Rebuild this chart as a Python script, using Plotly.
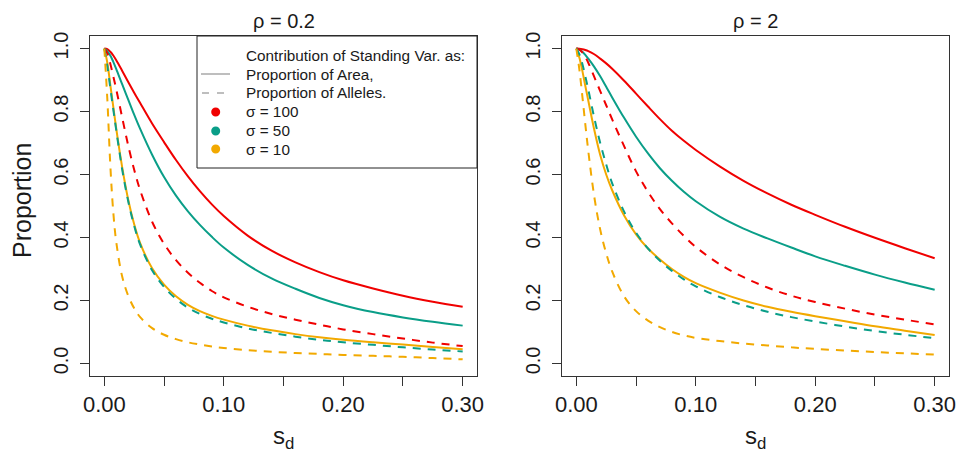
import plotly.graph_objects as go

# ---------------- data ----------------
s_d = [0, 0.0025, 0.005, 0.0075, 0.01, 0.015, 0.02, 0.025, 0.03, 0.04, 0.05, 0.06, 0.07, 0.08, 0.09,
       0.10, 0.12, 0.14, 0.16, 0.18, 0.20, 0.225, 0.25, 0.275, 0.30]

# rho = 0.2 panel
area_s100_r02 = [1.0, 0.998, 0.99, 0.978, 0.963, 0.929, 0.894, 0.86, 0.827, 0.762, 0.703, 0.646, 0.594, 0.547, 0.505,
                 0.468, 0.406, 0.358, 0.321, 0.29, 0.264, 0.238, 0.215, 0.196, 0.180]
area_s50_r02 = [1.0, 0.992, 0.978, 0.958, 0.935, 0.886, 0.838, 0.79, 0.745, 0.663, 0.592, 0.533, 0.483, 0.44, 0.402,
                0.368, 0.313, 0.27, 0.237, 0.208, 0.185, 0.163, 0.146, 0.132, 0.12]
area_s10_r02 = [1.0, 0.955, 0.885, 0.815, 0.745, 0.622, 0.52, 0.442, 0.382, 0.302, 0.25, 0.213, 0.186, 0.166, 0.151,
                0.139, 0.12, 0.105, 0.093, 0.083, 0.075, 0.067, 0.06, 0.052, 0.045]
allele_s100_r02 = [1.0, 0.985, 0.952, 0.912, 0.87, 0.78, 0.692, 0.615, 0.55, 0.45, 0.38, 0.328, 0.288, 0.256, 0.23,
                   0.21, 0.18, 0.157, 0.139, 0.123, 0.108, 0.093, 0.079, 0.066, 0.055]
allele_s50_r02 = [1.0, 0.945, 0.875, 0.807, 0.74, 0.615, 0.515, 0.437, 0.377, 0.296, 0.243, 0.205, 0.177, 0.157, 0.142,
                  0.13, 0.111, 0.097, 0.085, 0.075, 0.067, 0.059, 0.051, 0.044, 0.038]
allele_s10_r02 = [1.0, 0.84, 0.63, 0.48, 0.385, 0.275, 0.215, 0.175, 0.147, 0.112, 0.091, 0.077, 0.067, 0.06, 0.054,
                  0.049, 0.042, 0.037, 0.033, 0.03, 0.027, 0.024, 0.021, 0.017, 0.013]

# rho = 2 panel
area_s100_r2 = [1.0, 0.9995, 0.998, 0.9955, 0.992, 0.982, 0.968, 0.953, 0.936, 0.898, 0.857, 0.816, 0.776, 0.739, 0.707,
                0.678, 0.626, 0.58, 0.54, 0.504, 0.472, 0.434, 0.399, 0.366, 0.334]
area_s50_r2 = [1.0, 0.997, 0.99, 0.98, 0.968, 0.942, 0.912, 0.879, 0.845, 0.78, 0.72, 0.667, 0.62, 0.58, 0.545,
               0.515, 0.466, 0.428, 0.397, 0.368, 0.34, 0.31, 0.282, 0.257, 0.234]
area_s10_r2 = [1.0, 0.972, 0.93, 0.882, 0.835, 0.742, 0.662, 0.6, 0.55, 0.47, 0.41, 0.365, 0.33, 0.3, 0.275,
               0.255, 0.225, 0.2, 0.18, 0.164, 0.15, 0.134, 0.118, 0.104, 0.09]
allele_s100_r2 = [1.0, 0.997, 0.988, 0.973, 0.955, 0.91, 0.865, 0.82, 0.775, 0.69, 0.61, 0.545, 0.49, 0.445, 0.405,
                  0.37, 0.315, 0.274, 0.241, 0.215, 0.195, 0.174, 0.155, 0.139, 0.124]
allele_s50_r2 = [1.0, 0.982, 0.952, 0.912, 0.87, 0.78, 0.70, 0.632, 0.572, 0.482, 0.415, 0.365, 0.326, 0.294, 0.267,
                 0.245, 0.211, 0.185, 0.164, 0.147, 0.133, 0.117, 0.103, 0.091, 0.08]
allele_s10_r2 = [1.0, 0.935, 0.85, 0.76, 0.675, 0.53, 0.425, 0.35, 0.292, 0.213, 0.166, 0.136, 0.115, 0.1, 0.089,
                 0.081, 0.071, 0.063, 0.057, 0.051, 0.046, 0.041, 0.036, 0.032, 0.028]

panel_titles = ["ρ = 0.2", "ρ = 2"]
x_title = "s<sub>d</sub>"
y_title = "Proportion"
legend_header = "Contribution of Standing Var. as:"
legend_line_labels = ["Proportion of Area,", "Proportion of Alleles."]
sigma_labels = ["σ = 100", "σ = 50", "σ = 10"]
x_tickvals = [0, 0.10, 0.20, 0.30]
x_ticktext = ["0.00", "0.10", "0.20", "0.30"]
x_minor_tickvals = [0.05, 0.15, 0.25]
y_tickvals = [0, 0.2, 0.4, 0.6, 0.8, 1.0]
y_ticktext = ["0.0", "0.2", "0.4", "0.6", "0.8", "1.0"]

# ---------------- style ----------------
RED = "#F00000"
TEAL = "#0A9E88"
ORANGE = "#F2A900"
GRAY = "#BEBEBE"
colors = [RED, TEAL, ORANGE]
FONT = "Liberation Sans, Arial, sans-serif"
TXT = "#1a1a1a"
AX = "#333333"
W, H = 961, 452
DASH = "8px,7px"
SMOOTH = 1.0


def px(x):
    return x / W


def py(y):
    return 1 - y / H


fig = go.Figure()

panels = [
    ("x", "y", [area_s100_r02, area_s50_r02, area_s10_r02], [allele_s100_r02, allele_s50_r02, allele_s10_r02]),
    ("x2", "y2", [area_s100_r2, area_s50_r2, area_s10_r2], [allele_s100_r2, allele_s50_r2, allele_s10_r2]),
]
for xa, ya, areas, alleles in panels:
    for col, a in zip(colors, areas):
        fig.add_trace(go.Scatter(x=s_d, y=a, mode="lines", xaxis=xa, yaxis=ya,
                                 line=dict(color=col, width=2, shape="spline", smoothing=SMOOTH),
                                 showlegend=False, hoverinfo="skip"))
    for col, a in zip(colors, alleles):
        fig.add_trace(go.Scatter(x=s_d, y=a, mode="lines", xaxis=xa, yaxis=ya,
                                 line=dict(color=col, width=2, dash=DASH, shape="spline", smoothing=SMOOTH),
                                 showlegend=False, hoverinfo="skip"))

# geometry (pixels)
L1, R1 = 90, 477
L2, R2 = 562, 949
TOP, BOT = 36, 376
ydom = [py(BOT), py(TOP)]

axis_common = dict(showgrid=False, zeroline=False, showline=True, mirror=True, automargin=False,
                   linecolor=AX, linewidth=1, ticks="outside", ticklen=9,
                   tickcolor=AX, tickwidth=1)
xcommon = dict(axis_common, range=[-0.012, 0.312], tickvals=x_tickvals, ticktext=x_ticktext,
               minor=dict(tickvals=x_minor_tickvals, ticks="outside", ticklen=9, tickcolor=AX, tickwidth=1,
                          showgrid=False),
               tickfont=dict(family=FONT, size=22, color=TXT), ticklabelstandoff=0)
ycommon = dict(axis_common, range=[-0.04, 1.04], tickvals=y_tickvals, ticktext=y_ticktext,
               tickangle=-90, tickfont=dict(family=FONT, size=20, color=TXT), ticklabelstandoff=4)

fig.update_layout(
    width=W, height=H,
    margin=dict(l=0, r=0, t=0, b=0, autoexpand=False),
    paper_bgcolor="white", plot_bgcolor="white",
    font=dict(family=FONT, color=TXT),
    xaxis=dict(xcommon, domain=[px(L1), px(R1)], anchor="y"),
    yaxis=dict(ycommon, domain=ydom, anchor="x"),
    xaxis2=dict(xcommon, domain=[px(L2), px(R2)], anchor="y2"),
    yaxis2=dict(ycommon, domain=ydom, anchor="x2"),
    showlegend=False,
)

# panel titles and axis titles
for title, (l, r) in zip(panel_titles, [(L1, R1), (L2, R2)]):
    fig.add_annotation(text=title, x=px((l + r) / 2), y=py(21), xref="paper", yref="paper",
                       xanchor="center", yanchor="middle", showarrow=False,
                       font=dict(family=FONT, size=20, color=TXT))
    fig.add_annotation(text=x_title, x=px((l + r) / 2), y=py(437), xref="paper", yref="paper",
                       xanchor="center", yanchor="middle", showarrow=False,
                       font=dict(family=FONT, size=24, color=TXT))
fig.add_annotation(text=y_title, x=px(22), y=py(201), xref="paper", yref="paper", textangle=-90,
                   xanchor="center", yanchor="middle", showarrow=False,
                   font=dict(family=FONT, size=25, color=TXT))

# legend box (left panel, top-right)
LG_L, LG_R, LG_T, LG_B = 197, 477, 36, 168
fig.add_shape(type="rect", xref="paper", yref="paper", x0=px(LG_L), x1=px(LG_R), y0=py(LG_B), y1=py(LG_T),
              line=dict(color="#222222", width=1), fillcolor="white", layer="above")
row_y = [55, 74, 93, 112, 131, 149]
text_x = 244
labels = [legend_header] + legend_line_labels + sigma_labels
for lab, yy in zip(labels, row_y):
    fig.add_annotation(text=lab, x=px(text_x), y=py(yy), xref="paper", yref="paper",
                       xanchor="left", yanchor="middle", showarrow=False,
                       font=dict(family=FONT, size=15.3, color=TXT))
# line samples
fig.add_shape(type="line", xref="paper", yref="paper", x0=px(201), x1=px(230), y0=py(row_y[1]), y1=py(row_y[1]),
              line=dict(color=GRAY, width=2), layer="above")
fig.add_shape(type="line", xref="paper", yref="paper", x0=px(202), x1=px(231), y0=py(row_y[2]), y1=py(row_y[2]),
              line=dict(color=GRAY, width=2, dash="7px,8px"), layer="above")
# dots
for col, yy in zip(colors, row_y[3:]):
    fig.add_shape(type="circle", xref="paper", yref="paper",
                  xsizemode="pixel", ysizemode="pixel", xanchor=px(215.7), yanchor=py(yy),
                  x0=-4.5, x1=4.5, y0=-4.5, y1=4.5,
                  fillcolor=col, line=dict(color=col, width=0), layer="above")

fig.write_html("out.html", config={"displayModeBar": False},
               post_script="document.body.style.margin='0';document.body.style.overflow='hidden';")
